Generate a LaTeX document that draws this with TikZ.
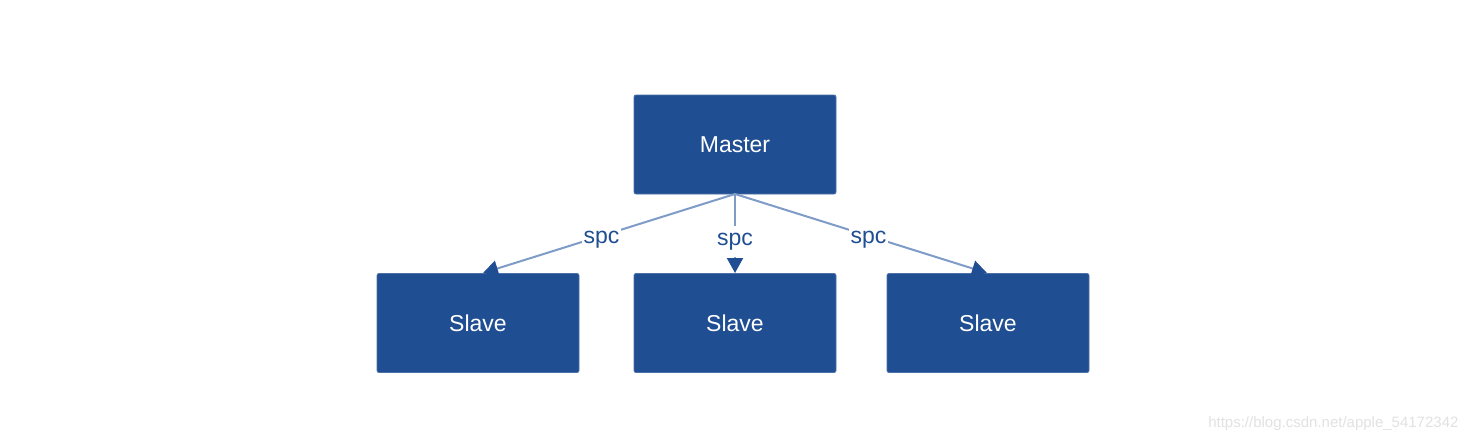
\documentclass[tikz,border=0pt]{standalone}
\usepackage{fontspec}
\setmainfont{Liberation Sans}
\usetikzlibrary{arrows.meta}
\definecolor{boxblue}{HTML}{1F4E92}
\definecolor{linkblue}{HTML}{7F9CC8}
\definecolor{wm}{HTML}{E2E2E2}
\tikzset{
  box/.style={fill=boxblue, draw=boxblue!80!white, line width=0.8pt, rounded corners=2pt, minimum width=202pt, minimum height=99pt, inner sep=0pt, text=white, font=\fontsize{23}{27}\selectfont},
  link/.style={draw=linkblue, line width=2pt, -{Triangle[length=15pt,width=16pt,fill=boxblue,color=boxblue]}, shorten >=0pt},
  lbl/.style={fill=white, text=boxblue, inner xsep=2pt, inner ysep=4pt, font=\fontsize{23}{27}\selectfont}
}
\begin{document}
\begin{tikzpicture}[x=1pt,y=-1pt]
\useasboundingbox (0,0) rectangle (1470,442);
\fill[white] (0,0) rectangle (1470,442);
\node[box] (m) at (735,144.5) {Master};
\node[box] (s1) at (478,323) {Slave};
\node[box] (s2) at (735,323) {Slave};
\node[box] (s3) at (988,323) {Slave};
\coordinate (mb) at (735,194);
\coordinate (t1) at (483,273);
\coordinate (t2) at (735,273);
\coordinate (t3) at (987,273);
\draw[link] (mb) -- node[lbl, pos=0.53, yshift=-4pt] {spc} (t1);
\draw[link] (mb) -- node[lbl, pos=0.56, yshift=-3pt, inner ysep=7pt] {spc} (t2);
\draw[link] (mb) -- node[lbl, pos=0.53, yshift=-4pt] {spc} (t3);
\node[text=wm, anchor=east, font=\fontsize{15}{18}\selectfont] (wmk) at (1462,424) {https://blog.csdn.net/apple\_54172342};
\end{tikzpicture}
\end{document}
